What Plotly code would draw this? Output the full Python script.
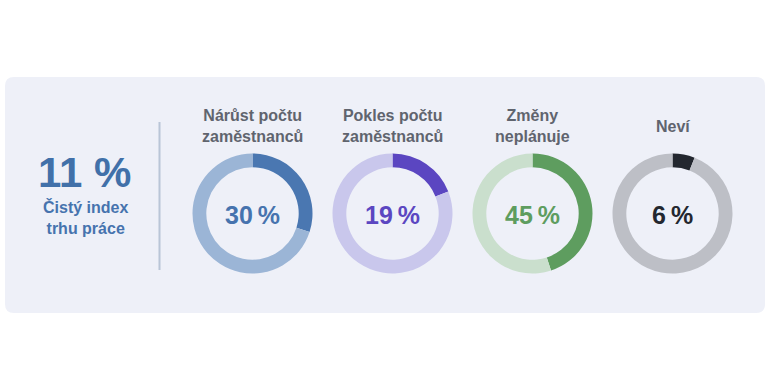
import plotly.graph_objects as go

titles = ["Nárůst počtu<br>zaměstnanců", "Pokles počtu<br>zaměstnanců", "Změny<br>neplánuje", "Neví"]
values = [30, 19, 45, 6]
dark_colors = ["#4a77b1", "#5b46c1", "#5e9d5f", "#23272f"]
light_colors = ["#9bb5d6", "#c9c7ec", "#cadfcd", "#bdbfc6"]
text_colors = ["#4673ae", "#5b46c1", "#5e9d5f", "#23272f"]
index_value = 11
index_label = "Čistý index<br>trhu práce"

W, H = 770, 391
centers_x = [252.5, 392.5, 532.5, 672.5]
center_y = 213.5
R = 60
FONT = "Arial, Liberation Sans, sans-serif"

fig = go.Figure()

for i, v in enumerate(values):
    cx = centers_x[i]
    fig.add_trace(go.Pie(
        values=[v, 100 - v],
        marker=dict(colors=[dark_colors[i], light_colors[i]], line=dict(width=0)),
        hole=0.77,
        sort=False,
        direction="clockwise",
        rotation=0,
        textinfo="none",
        hoverinfo="skip",
        showlegend=False,
        domain=dict(x=[(cx - R) / W, (cx + R) / W],
                    y=[(H - center_y - R) / H, (H - center_y + R) / H]),
    ))
    fig.add_annotation(x=cx, y=center_y + 1, text=f"<b>{v}\u2009%</b>", showarrow=False,
                       font=dict(family=FONT, size=25, color=text_colors[i]),
                       xanchor="center", yanchor="middle")
    fig.add_annotation(x=cx, y=126, text=f"<b>{titles[i]}</b>", showarrow=False,
                       font=dict(family=FONT, size=16, color="#60646e"),
                       xanchor="center", yanchor="middle")

fig.add_annotation(x=84, y=172, text=f"<b>{index_value} %</b>", showarrow=False,
                   font=dict(family=FONT, size=42, color="#4170a9"),
                   xanchor="center", yanchor="middle")
fig.add_annotation(x=85, y=217, text=f"<b>{index_label}</b>", showarrow=False,
                   font=dict(family=FONT, size=16, color="#4673ae"),
                   xanchor="center", yanchor="middle")

# rounded panel
x0, y0, x1, y1, r = 5, 77, 765, 313, 9
path = (f"M {x0+r},{y0} L {x1-r},{y0} Q {x1},{y0} {x1},{y0+r} "
        f"L {x1},{y1-r} Q {x1},{y1} {x1-r},{y1} L {x0+r},{y1} Q {x0},{y1} {x0},{y1-r} "
        f"L {x0},{y0+r} Q {x0},{y0} {x0+r},{y0} Z")
fig.add_shape(type="path", path=path, xref="x", yref="y", fillcolor="#eef0f8",
              line=dict(width=0), layer="below")
fig.add_shape(type="line", x0=159.5, x1=159.5, y0=122, y1=270, xref="x", yref="y",
              line=dict(color="#b9c5d7", width=2), layer="below")

fig.update_layout(
    width=W, height=H,
    margin=dict(l=0, r=0, t=0, b=0),
    paper_bgcolor="white", plot_bgcolor="rgba(0,0,0,0)",
    xaxis=dict(range=[0, W], visible=False, fixedrange=True),
    yaxis=dict(range=[H, 0], visible=False, fixedrange=True),
)

fig.write_html("out.html", config={"displayModeBar": False},
               post_script="document.body.style.margin='0';document.body.style.overflow='hidden';")
